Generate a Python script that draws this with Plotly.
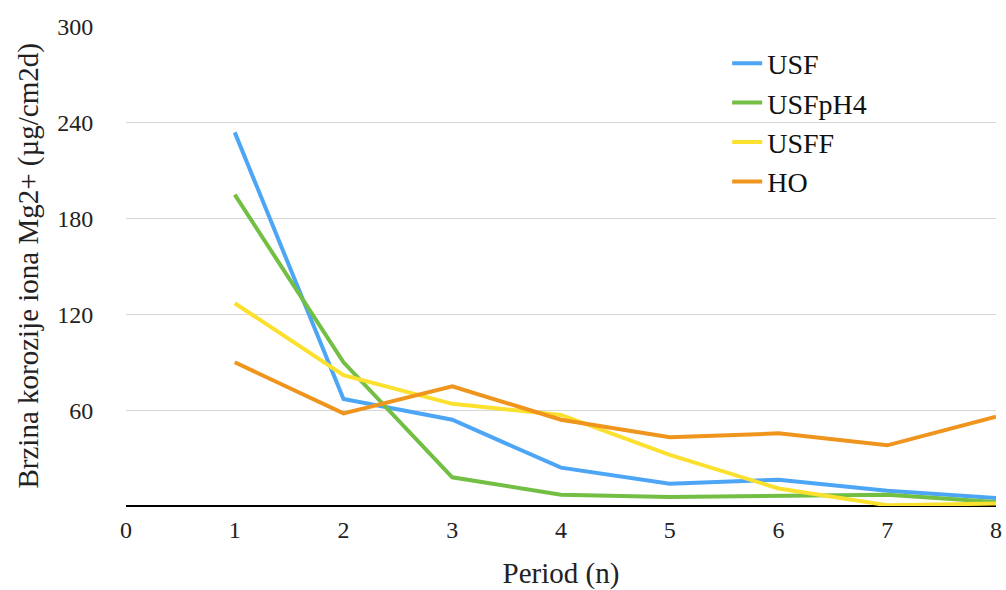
import plotly.graph_objects as go

periods = [1, 2, 3, 4, 5, 6, 7, 8]
usf = [234, 67, 54, 24, 14, 16.5, 9.5, 5]
usfph4 = [195, 90, 18, 7, 5.6, 6, 7, 2.5]
usff = [127, 82, 64, 57, 32, 11, 0.5, 1.5]
ho = [90, 58, 75, 54, 43, 45.5, 38, 56]

series = [("USF", usf, "#4DA6F5"), ("USFpH4", usfph4, "#72BF44"),
          ("USFF", usff, "#FCE02E"), ("HO", ho, "#EF951E")]

x_ticks = [0, 1, 2, 3, 4, 5, 6, 7, 8]
y_ticks = [60, 120, 180, 240, 300]

fig = go.Figure()
for name, vals, col in series:
    fig.add_trace(go.Scatter(x=periods, y=vals, name=name, mode="lines",
                             line=dict(color=col, width=4)))

font = "Times New Roman, Liberation Serif, serif"
fig.update_layout(
    width=1006, height=590,
    margin=dict(l=126, r=10, t=27, b=84, autoexpand=False),
    plot_bgcolor="white", paper_bgcolor="white",
    font=dict(family=font, size=24, color="#222"),
    showlegend=True,
    legend=dict(x=0.691, y=0.976, xanchor="left", yanchor="top",
                font=dict(family=font, size=28, color="#111"),
                bgcolor="rgba(0,0,0,0)"),
    xaxis=dict(range=[0, 8], tickvals=x_ticks, showgrid=False, zeroline=False,
               showline=False, ticks="outside", ticklen=2,
               tickcolor="rgba(0,0,0,0)", automargin=False,
               tickfont=dict(family=font, size=24),
               title=dict(text="Period (n)", font=dict(family=font, size=29),
                          standoff=31)),
    yaxis=dict(range=[0, 300], tickvals=y_ticks, showgrid=True,
               gridcolor="#D6D6D6", gridwidth=1, zeroline=True,
               zerolinecolor="black", zerolinewidth=2, showline=False,
               ticks="outside", ticklen=27, tickcolor="rgba(0,0,0,0)",
               automargin=False, tickfont=dict(family=font, size=24)),
    annotations=[dict(text="Brzina korozije iona Mg2+ (µg/cm2d)",
                      xref="paper", yref="paper", x=-0.1126, y=0.5,
                      xanchor="center", yanchor="middle", textangle=-90,
                      showarrow=False, font=dict(family=font, size=29, color="#222"))],
)
fig.write_html("out.html", config={"displayModeBar": False},
               post_script="document.body.style.margin='0';")
